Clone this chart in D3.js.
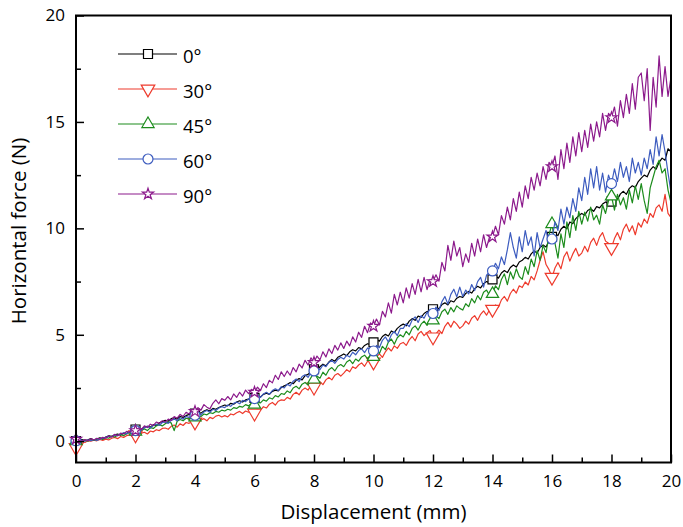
<!DOCTYPE html>
<html>
<head>
  <meta charset="utf-8">
  <script src="https://cdn.jsdelivr.net/npm/d3@7"></script>
  <style>
    body { margin: 0; background: #fff; }
    svg { display: block; font-family: "Open Sans", Lato, sans-serif; }
  </style>
</head>
<body>
<svg id="chart" width="683" height="527"></svg>
<script>
  // displacement grid (mm), one reading every 0.1 mm
  var step = 0.1;
  var xTicks = [0, 2, 4, 6, 8, 10, 12, 14, 16, 18, 20];
  var yTicks = [0, 5, 10, 15, 20];
  var angles = ['0°', '30°', '45°', '60°', '90°'];
  var colors = ['#000000', '#ee3a2c', '#1c8c1c', '#3d5cbf', '#8c1a8c'];

  // horizontal force (N)
  var f0 = [
    0.00, 0.04, 0.08, 0.03, 0.07, 0.12, 0.06, 0.10, 0.16, 0.12,
    0.20, 0.26, 0.22, 0.30, 0.34, 0.28, 0.38, 0.36, 0.44, 0.48,
    0.55, 0.60, 0.56, 0.66, 0.70, 0.66, 0.78, 0.74, 0.86, 0.92,
    0.98, 0.94, 1.06, 1.10, 1.04, 1.16, 1.12, 1.20, 1.26, 1.22,
    1.30, 1.36, 1.32, 1.42, 1.48, 1.42, 1.54, 1.50, 1.58, 1.64,
    1.70, 1.66, 1.78, 1.74, 1.84, 1.90, 1.84, 1.94, 1.98, 2.02,
    2.04, 2.12, 2.08, 2.20, 2.26, 2.20, 2.34, 2.40, 2.36, 2.52,
    2.60, 2.66, 2.76, 2.70, 2.86, 2.94, 2.88, 3.08, 3.14, 3.26,
    3.38, 3.30, 3.50, 3.62, 3.54, 3.72, 3.84, 3.76, 3.94, 4.02,
    4.10, 4.02, 4.20, 4.30, 4.24, 4.40, 4.34, 4.50, 4.58, 4.54,
    4.64, 4.78, 4.70, 4.92, 5.02, 4.94, 5.18, 5.10, 5.30, 5.42,
    5.50, 5.42, 5.64, 5.76, 5.68, 5.88, 5.82, 6.00, 6.10, 6.04,
    6.20, 6.30, 6.22, 6.42, 6.50, 6.40, 6.60, 6.54, 6.72, 6.80,
    6.76, 6.94, 7.04, 6.96, 7.16, 7.28, 7.20, 7.40, 7.50, 7.44,
    7.60, 7.76, 7.66, 7.90, 8.02, 7.92, 8.16, 8.28, 8.18, 8.42,
    8.50, 8.64, 8.56, 8.80, 8.94, 8.84, 9.10, 9.22, 9.12, 9.40,
    9.60, 9.74, 9.66, 9.96, 10.10, 9.98, 10.30, 10.22, 10.46, 10.60,
    10.70, 10.62, 10.84, 10.92, 10.80, 11.02, 10.96, 11.14, 11.24, 11.16,
    11.26, 11.42, 11.36, 11.62, 11.74, 11.60, 11.88, 12.00, 11.92, 12.20,
    12.36, 12.50, 12.42, 12.74, 12.90, 12.78, 13.10, 13.30, 13.20, 13.74,
    13.60
  ];
  var f30 = [
    -0.30, -0.12, -0.02, -0.06, 0.02, 0.00, 0.05, 0.02, 0.08, 0.04,
    0.10, 0.06, 0.14, 0.18, 0.12, 0.22, 0.18, 0.26, 0.30, 0.24,
    0.30, 0.22, 0.38, 0.42, 0.34, 0.48, 0.44, 0.54, 0.50, 0.60,
    0.62, 0.56, 0.70, 0.76, 0.66, 0.82, 0.74, 0.88, 0.84, 0.92,
    0.90, 0.84, 1.00, 1.06, 0.96, 1.12, 1.06, 1.18, 1.22, 1.14,
    1.20, 1.14, 1.28, 1.24, 1.34, 1.40, 1.30, 1.42, 1.36, 1.46,
    1.32, 1.50, 1.46, 1.62, 1.56, 1.74, 1.82, 1.70, 1.88, 1.94,
    1.92, 2.06, 1.98, 2.20, 2.30, 2.18, 2.40, 2.50, 2.40, 2.62,
    2.54, 2.72, 2.80, 2.66, 2.88, 3.00, 2.88, 3.10, 3.18, 3.06,
    3.20, 3.36, 3.26, 3.50, 3.42, 3.58, 3.68, 3.52, 3.76, 3.86,
    3.72, 3.96, 4.10, 3.94, 4.20, 4.38, 4.24, 4.48, 4.36, 4.58,
    4.64, 4.50, 4.76, 4.92, 4.72, 5.04, 5.16, 4.96, 5.10, 5.20,
    4.90, 5.04, 5.22, 5.06, 5.40, 5.58, 5.36, 5.64, 5.50, 5.30,
    5.42, 5.64, 5.50, 5.78, 5.90, 5.68, 5.96, 6.12, 5.92, 6.18,
    6.20, 6.40, 6.30, 6.64, 6.80, 6.58, 6.94, 7.14, 6.96, 7.30,
    7.22, 7.48, 7.34, 7.74, 7.58, 8.00, 8.50, 8.90, 8.30, 8.06,
    7.70, 8.14, 8.40, 8.10, 8.66, 8.90, 8.46, 8.80, 9.06, 8.70,
    8.84, 9.16, 8.90, 9.34, 9.54, 9.20, 9.60, 9.80, 9.40, 9.30,
    9.10, 9.52, 9.80, 9.46, 9.96, 10.20, 9.84, 10.12, 9.70, 10.26,
    10.06, 10.44, 10.24, 10.70, 10.52, 10.96, 11.10, 10.80, 11.60, 10.70,
    10.50
  ];
  var f45 = [
    0.00, -0.06, 0.02, 0.06, 0.00, 0.08, 0.04, 0.10, 0.14, 0.08,
    0.18, 0.14, 0.24, 0.20, 0.28, 0.32, 0.26, 0.36, 0.40, 0.36,
    0.45, 0.40, 0.52, 0.58, 0.50, 0.64, 0.60, 0.72, 0.78, 0.72,
    0.82, 0.90, 0.86, 0.50, 0.94, 1.02, 0.96, 1.08, 1.04, 1.14,
    1.12, 1.20, 1.16, 1.28, 1.24, 1.34, 1.30, 1.40, 1.36, 1.46,
    1.42, 1.50, 1.46, 1.58, 1.54, 1.64, 1.60, 1.72, 1.66, 1.78,
    1.72, 1.84, 1.80, 1.94, 1.88, 2.04, 1.98, 2.14, 2.08, 2.24,
    2.20, 2.36, 2.28, 2.50, 2.58, 2.46, 2.68, 2.76, 2.64, 2.86,
    2.90, 3.06, 2.96, 3.24, 3.10, 3.36, 3.46, 3.30, 3.52, 3.60,
    3.50, 3.72, 3.82, 3.64, 3.86, 3.76, 3.96, 4.04, 3.88, 4.06,
    3.96, 4.24, 4.12, 4.46, 4.30, 4.66, 4.80, 4.56, 4.86, 5.00,
    4.90, 5.16, 5.00, 5.30, 5.42, 5.22, 5.50, 5.64, 5.44, 5.72,
    5.68, 5.90, 5.76, 6.08, 6.20, 5.96, 6.28, 6.08, 6.36, 6.24,
    6.16, 6.46, 6.32, 6.70, 6.50, 6.84, 6.64, 7.00, 7.10, 6.86,
    6.92, 7.30, 7.12, 7.60, 7.86, 7.36, 7.96, 7.62, 8.10, 7.74,
    7.60, 8.20, 7.84, 8.56, 8.20, 8.96, 8.50, 9.20, 8.86, 9.70,
    10.20, 9.30, 8.60, 9.74, 9.10, 10.30, 9.56, 10.60, 9.90, 10.80,
    10.20, 10.76, 10.34, 11.00, 10.40, 10.62, 10.20, 11.10, 10.70, 11.30,
    11.50, 10.86, 11.60, 11.10, 11.44, 10.90, 11.80, 11.20, 12.00, 11.36,
    12.10, 11.30, 10.70, 11.90, 12.40, 12.90, 13.20, 12.60, 12.80, 11.80,
    11.20
  ];
  var f60 = [
    0.02, -0.04, 0.04, 0.00, 0.06, 0.02, 0.08, 0.04, 0.10, 0.14,
    0.18, 0.24, 0.20, 0.30, 0.26, 0.34, 0.40, 0.34, 0.44, 0.48,
    0.50, 0.56, 0.52, 0.64, 0.70, 0.62, 0.74, 0.80, 0.74, 0.88,
    0.90, 0.84, 0.98, 1.04, 0.96, 1.10, 1.04, 1.16, 1.12, 1.20,
    1.22, 1.30, 1.24, 1.38, 1.44, 1.36, 1.50, 1.44, 1.56, 1.62,
    1.58, 1.70, 1.64, 1.78, 1.84, 1.76, 1.92, 1.86, 1.98, 2.04,
    2.00, 2.12, 2.06, 2.22, 2.30, 2.20, 2.38, 2.46, 2.38, 2.56,
    2.50, 2.68, 2.60, 2.82, 2.92, 2.80, 3.04, 3.12, 3.00, 3.24,
    3.30, 3.44, 3.36, 3.58, 3.50, 3.70, 3.80, 3.66, 3.84, 3.94,
    3.86, 4.04, 3.96, 4.18, 4.06, 4.26, 4.34, 4.16, 4.38, 4.30,
    4.24, 4.50, 4.40, 4.74, 4.90, 4.66, 5.00, 5.16, 4.96, 5.30,
    5.30, 5.52, 5.38, 5.70, 5.84, 5.58, 5.90, 5.78, 6.06, 5.94,
    6.00, 6.30, 6.14, 6.56, 6.80, 6.44, 6.90, 7.14, 6.78, 7.24,
    6.80, 7.10, 6.92, 7.36, 7.08, 7.50, 7.70, 7.24, 7.80, 7.96,
    8.00, 8.36, 8.10, 8.66, 8.30, 9.00, 9.80, 9.10, 8.60, 9.60,
    8.90, 9.90, 9.20, 9.60, 8.70, 9.80, 9.10, 9.50, 9.90, 9.30,
    9.50, 10.30, 9.90, 10.90, 10.20, 11.00, 10.50, 11.40, 10.80, 11.90,
    11.30, 12.40, 11.60, 12.80, 11.90, 12.90, 11.80, 12.60, 11.70, 12.50,
    12.10, 12.80, 12.20, 13.10, 12.40, 12.90, 12.20, 13.30, 12.60, 13.10,
    12.50, 13.30, 12.80, 13.70, 13.00, 14.30, 13.40, 14.40, 13.60, 12.60,
    11.70
  ];
  var f90 = [
    0.10, 0.04, 0.00, 0.08, 0.02, 0.12, 0.06, 0.14, 0.10, 0.18,
    0.14, 0.24, 0.20, 0.32, 0.26, 0.38, 0.34, 0.46, 0.42, 0.52,
    0.50, 0.62, 0.56, 0.72, 0.64, 0.80, 0.74, 0.90, 0.84, 0.96,
    0.90, 1.04, 0.98, 1.16, 1.08, 1.26, 1.16, 1.36, 1.28, 1.48,
    1.40, 1.58, 1.46, 1.72, 1.60, 1.52, 1.78, 1.94, 1.76, 2.00,
    1.92, 2.10, 1.94, 2.22, 2.06, 2.30, 2.12, 2.40, 2.24, 2.44,
    2.30, 2.54, 2.38, 2.70, 2.52, 2.86, 2.74, 3.10, 2.90, 3.26,
    3.04, 3.30, 3.10, 3.46, 3.26, 3.62, 3.44, 3.80, 3.58, 3.92,
    3.70, 4.00, 3.82, 4.20, 3.96, 4.34, 4.12, 4.50, 4.28, 4.62,
    4.36, 4.70, 4.48, 4.90, 4.66, 5.12, 4.88, 5.40, 5.10, 5.56,
    5.40, 5.74, 5.46, 6.10, 5.84, 6.50, 6.02, 6.90, 6.40, 7.00,
    6.50, 7.20, 6.72, 7.40, 6.90, 7.60, 7.02, 7.70, 7.12, 7.60,
    7.50, 7.82, 7.52, 8.40, 8.00, 9.20, 8.50, 9.40, 8.70, 9.10,
    8.20, 8.80, 8.40, 9.30, 8.70, 9.50, 8.90, 9.70, 9.10, 9.60,
    9.60, 10.10, 9.70, 10.60, 10.20, 11.00, 10.40, 11.40, 10.80, 11.70,
    11.00, 12.00, 11.40, 12.40, 11.80, 12.60, 12.00, 12.90, 12.30, 13.10,
    12.90, 13.40, 12.30, 13.70, 12.80, 14.00, 13.10, 14.30, 13.40, 14.50,
    13.60, 14.60, 13.80, 14.90, 14.10, 15.00, 14.30, 15.40, 14.60, 15.40,
    15.20, 15.70, 14.80, 16.00, 15.20, 16.30, 15.40, 16.80, 15.60, 17.10,
    17.30, 16.00, 17.50, 14.60, 17.10, 15.70, 18.10, 16.20, 17.60, 16.20,
    17.10
  ];
  var series = [f0, f30, f45, f60, f90];
  var symbols = [d3.symbolSquare, d3.symbolTriangle, d3.symbolTriangle, d3.symbolCircle, d3.symbolStar];
  var symSizes = [81, 80, 65, 78, 38];
  var symRotate = [0, 180, 0, 0, 0];

  var svg = d3.select('#chart');
  var x = d3.scaleLinear().domain([0, 20]).range([76, 671]);
  var y = d3.scaleLinear().domain([-1, 20]).range([462.5, 15.5]);

  // curves
  var line = d3.line()
    .x((d, i) => x(i * step))
    .y(d => y(d));

  series.forEach((s, k) => {
    svg.append('path')
      .datum(s)
      .attr('d', line)
      .attr('fill', 'none')
      .attr('stroke', colors[k])
      .attr('stroke-width', 1.2)
      .attr('stroke-linejoin', 'round');

    // markers every 2 mm
    var marks = s.map((v, i) => ({ i: i, v: v })).filter(d => d.i % 20 === 0 && d.i < 200);
    svg.selectAll('.m' + k)
      .data(marks)
      .enter()
      .append('path')
      .attr('class', 'm' + k)
      .attr('d', d3.symbol().type(symbols[k]).size(symSizes[k]))
      .attr('transform', d => 'translate(' + x(d.i * step) + ',' + y(d.v) + ') rotate(' + symRotate[k] + ')')
      .attr('fill', 'white')
      .attr('stroke', colors[k])
      .attr('stroke-width', 1.2);
  });

  // axes, ticks pointing inward
  svg.append('g')
    .attr('transform', 'translate(0,' + y(-1) + ')')
    .call(d3.axisBottom(x).tickValues(xTicks).tickSizeInner(-8).tickSizeOuter(0).tickPadding(12));
  svg.append('g')
    .attr('transform', 'translate(0,' + y(-1) + ')')
    .call(d3.axisBottom(x).tickValues(d3.range(1, 20, 2)).tickSizeInner(-5).tickSizeOuter(0).tickFormat(''));
  svg.append('g')
    .attr('transform', 'translate(' + x(0) + ',0)')
    .call(d3.axisLeft(y).tickValues(yTicks).tickSizeInner(-8).tickSizeOuter(0).tickPadding(11));
  svg.append('g')
    .attr('transform', 'translate(' + x(0) + ',0)')
    .call(d3.axisLeft(y).tickValues([2.5, 7.5, 12.5, 17.5]).tickSizeInner(-5).tickSizeOuter(0).tickFormat(''));

  svg.selectAll('.tick line').attr('stroke-width', 1.5);
  svg.selectAll('.domain').attr('stroke', 'none');
  svg.selectAll('.tick text')
    .attr('font-family', '"Open Sans", sans-serif')
    .attr('font-size', 17)
    .attr('fill', '#000');

  // frame
  svg.append('rect')
    .attr('x', x(0))
    .attr('y', y(20))
    .attr('width', x(20) - x(0))
    .attr('height', y(-1) - y(20))
    .attr('fill', 'none')
    .attr('stroke', '#000')
    .attr('stroke-width', 2);

  // axis titles
  svg.append('text')
    .attr('x', (x(0) + x(20)) / 2)
    .attr('y', 519)
    .attr('text-anchor', 'middle')
    .attr('font-size', 20.5)
    .text('Displacement (mm)');
  svg.append('text')
    .attr('transform', 'translate(26,231) rotate(-90)')
    .attr('text-anchor', 'middle')
    .attr('font-size', 20.5)
    .text('Horizontal force (N)');

  // legend
  var legend = svg.append('g');
  angles.forEach((a, k) => {
    var ly = 54 + k * 35;
    legend.append('line')
      .attr('x1', 118).attr('x2', 177)
      .attr('y1', ly).attr('y2', ly)
      .attr('stroke', colors[k])
      .attr('stroke-width', 1.2);
    legend.append('path')
      .attr('d', d3.symbol().type(symbols[k]).size(symSizes[k]))
      .attr('transform', 'translate(148,' + ly + ') rotate(' + symRotate[k] + ')')
      .attr('fill', 'white')
      .attr('stroke', colors[k])
      .attr('stroke-width', 1.2);
    legend.append('text')
      .attr('x', 183)
      .attr('y', ly + 9)
      .attr('font-size', 18.5)
      .text(a);
  });
</script>
</body>
</html>
